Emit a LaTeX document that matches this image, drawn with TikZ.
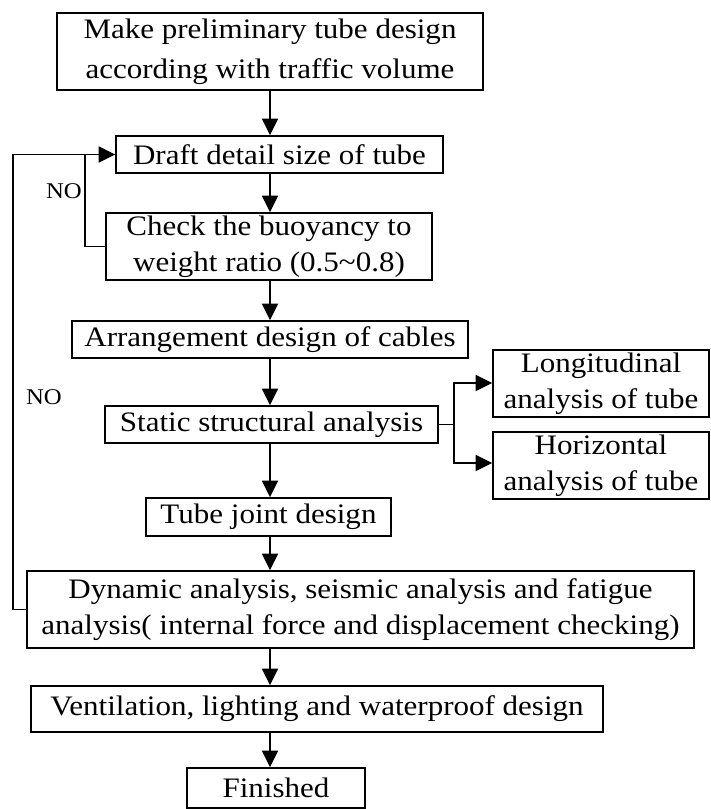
\documentclass[tikz,border=0pt]{standalone}
\usepackage{fontspec}
\setmainfont[FakeStretch=1.1]{Liberation Serif}
\usetikzlibrary{arrows.meta}

\begin{document}
\begin{tikzpicture}[x=1pt,y=-1pt,
  box/.style={draw, line width=1.6pt, inner sep=0pt, align=center,
              font=\fontsize{28.2}{36}\selectfont},
  arr/.style={line width=1.6pt, -{Triangle[length=16.5pt,width=16pt]}},
  link/.style={line width=1.6pt},
  lbl/.style={font=\fontsize{22.5}{26}\selectfont, inner sep=0pt}]
\useasboundingbox (0,0) rectangle (710,809);

% main column of steps
\node[box, minimum width=426pt, minimum height=77pt, font=\fontsize{28.2}{40}\selectfont]
  (b1) at (270,51.5) {Make preliminary tube design\\according with traffic volume};
\node[box, minimum width=327pt, minimum height=37pt] (b2) at (279.5,154.5) {Draft detail size of tube};
\node[box, minimum width=326pt, minimum height=67pt] (b3) at (269,246.5)
  {Check the buoyancy to\\weight ratio (0.5\textasciitilde0.8)};
\node[box, minimum width=396pt, minimum height=37pt] (b4) at (270,339.5) {Arrangement design of cables};
\node[box, minimum width=333pt, minimum height=37pt] (b5) at (271.5,424.5) {Static structural analysis};
\node[box, minimum width=245pt, minimum height=38pt] (b8) at (268.5,517) {Tube joint design};
\node[box, minimum width=667pt, minimum height=77pt] (b9) at (360.5,609.5)
  {Dynamic analysis, seismic analysis and fatigue\\analysis( internal force and displacement checking)};
\node[box, minimum width=572pt, minimum height=46pt] (b10) at (317,709) {Ventilation, lighting and waterproof design};
\node[box, minimum width=178pt, minimum height=40pt] (b11) at (276,788) {Finished};

% side branch of the static analysis
\node[box, minimum width=216pt, minimum height=67pt] (b6) at (601,383.5) {Longitudinal\\analysis of tube};
\node[box, minimum width=216pt, minimum height=67pt] (b7) at (601,465.5) {Horizontal\\analysis of tube};

% loop labels
\node[lbl] (no1) at (64,191) {NO};
\node[lbl] (no2) at (44,397) {NO};

% helper coordinates
\coordinate (spine) at (270,0);
\coordinate (inner) at (85,0);
\coordinate (outer) at (13,0);
\coordinate (fork) at (454,0);

% downward flow
\draw[arr] (spine |- b1.south) -- (spine |- b2.north);
\draw[arr] (spine |- b2.south) -- (spine |- b3.north);
\draw[arr] (spine |- b3.south) -- (spine |- b4.north);
\draw[arr] (spine |- b4.south) -- (spine |- b5.north);
\draw[arr] (spine |- b5.south) -- (spine |- b8.north);
\draw[arr] (spine |- b8.south) -- (spine |- b9.north);
\draw[arr] (spine |- b9.south) -- (spine |- b10.north);
\draw[arr] (spine |- b10.south) -- (spine |- b11.north);

% branch to the two tube analyses
\draw[link] (b5.east) -- (fork |- b5.east);
\draw[arr] (fork |- b5.east) |- ([yshift=0.5pt]b6.west);
\draw[arr] (fork |- b5.east) |- ([yshift=2.5pt]b7.west);

% feedback loops back to the draft size
\draw[arr] (b3.west) -- (inner |- b3.west) -- (inner |- b2.west) -- (b2.west);
\draw[link] (b9.west) -- (outer |- b9.west) -- (outer |- b2.west) -- (inner |- b2.west);
\end{tikzpicture}
\end{document}
